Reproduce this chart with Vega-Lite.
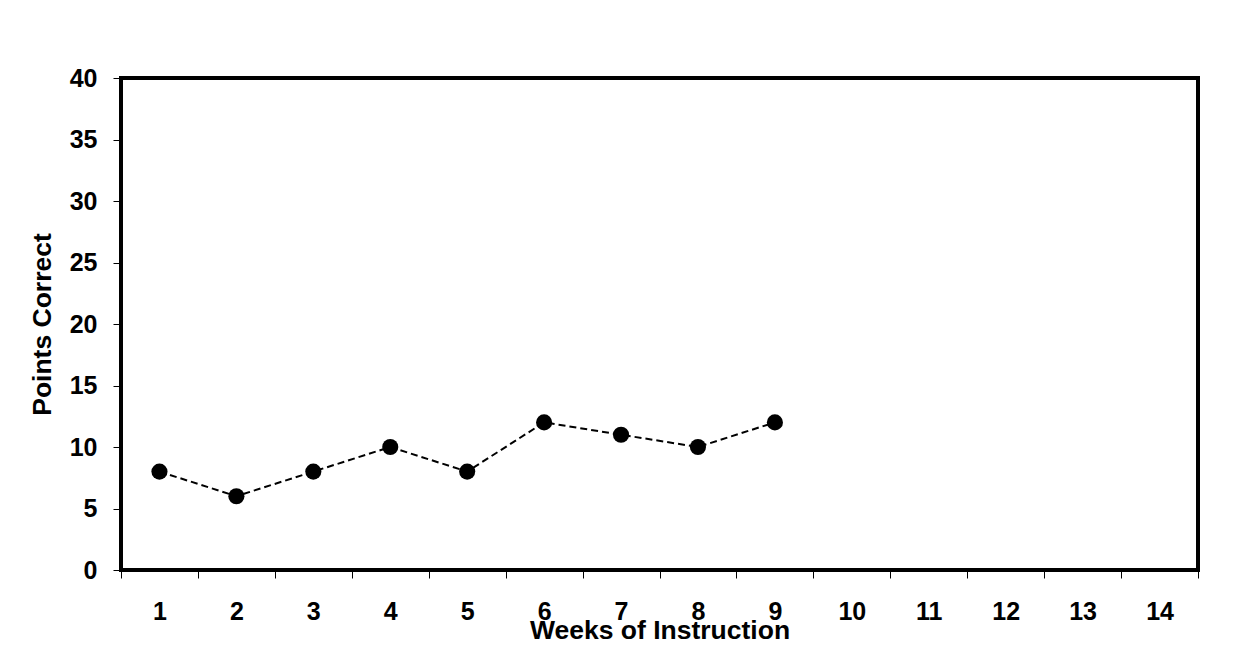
{
  "$schema": "https://vega.github.io/schema/vega-lite/v6.json",
  "width": 1077,
  "height": 492,
  "autosize": "none",
  "padding": {"left": 121, "top": 78, "right": 55, "bottom": 86},
  "background": "white",
  "config": {
    "view": {"stroke": "black", "strokeWidth": 4},
    "font": "Liberation Sans"
  },
  "data": {
    "values": [
      {"week": 1, "points": 8},
      {"week": 2, "points": 6},
      {"week": 3, "points": 8},
      {"week": 4, "points": 10},
      {"week": 5, "points": 8},
      {"week": 6, "points": 12},
      {"week": 7, "points": 11},
      {"week": 8, "points": 10},
      {"week": 9, "points": 12}
    ]
  },
  "encoding": {
    "x": {
      "field": "week",
      "type": "ordinal",
      "scale": {"domain": [1, 2, 3, 4, 5, 6, 7, 8, 9, 10, 11, 12, 13, 14], "paddingInner": 0, "paddingOuter": 0},
      "axis": {
        "title": "Weeks of Instruction",
        "labelAngle": 0,
        "tickBand": "extent",
        "domain": false,
        "grid": false,
        "tickColor": "black",
        "tickSize": 8,
        "tickWidth": 1,
        "labelFont": "Liberation Sans",
        "labelFontWeight": "bold",
        "labelFontSize": 25,
        "labelColor": "black",
        "labelPadding": 21,
        "labelOverlap": false,
        "titleFont": "Liberation Sans",
        "titleFontWeight": "bold",
        "titleFontSize": 26.5,
        "titleColor": "black",
        "titlePadding": -7
      }
    },
    "y": {
      "field": "points",
      "type": "quantitative",
      "scale": {"domain": [0, 40], "nice": false},
      "axis": {
        "title": "Points Correct",
        "values": [0, 5, 10, 15, 20, 25, 30, 35, 40],
        "domain": false,
        "grid": false,
        "tickColor": "black",
        "tickSize": 8,
        "tickWidth": 1,
        "labelFont": "Liberation Sans",
        "labelFontWeight": "bold",
        "labelFontSize": 25,
        "labelColor": "black",
        "labelPadding": 16,
        "labelFlush": false,
        "labelOverlap": false,
        "titleFont": "Liberation Sans",
        "titleFontWeight": "bold",
        "titleFontSize": 26.5,
        "titleColor": "black",
        "titlePadding": 13
      }
    }
  },
  "layer": [
    {"mark": {"type": "line", "color": "black", "strokeWidth": 2, "strokeDash": [7, 4]}},
    {"mark": {"type": "circle", "size": 260, "color": "black", "opacity": 1}}
  ]
}
